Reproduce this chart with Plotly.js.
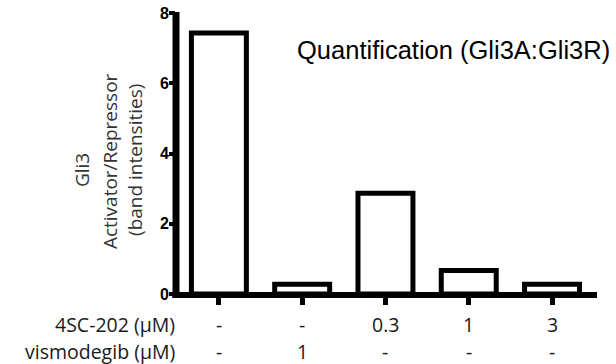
<!DOCTYPE html>
<html><head><meta charset="utf-8">
<script src="https://cdn.plot.ly/plotly-3.0.1.min.js"></script>
<style>html,body{margin:0;padding:0;background:#fff}</style>
</head><body>
<div id="chart" style="width:616px;height:364px"></div>
<script>
const categories = [0, 1, 2, 3, 4];
const ratio = [7.43, 0.28, 2.87, 0.67, 0.28];
const row1Label = "4SC-202 (μM)";
const row1Values = ["-", "-", "0.3", "1", "3"];
const row2Label = "vismodegib (μM)";
const row2Values = ["-", "1", "-", "-", "-"];
const yTicks = [0, 2, 4, 6, 8];
const yTitleLines = ["Gli3", "Activator/Repressor", "(band intensities)"];
const chartTitle = "Quantification (Gli3A:Gli3R)";

const lblFont = {family: "Open Sans, Noto Sans, sans-serif", size: 19.5, color: "#1a1a1a"};
const ytFont = {family: "Open Sans, Noto Sans, sans-serif", size: 19, color: "#333"};
const annotations = [];
[[row1Label, row1Values, -30], [row2Label, row2Values, -57]].forEach(([lab, vals, ys]) => {
  annotations.push({xref: "paper", yref: "paper", x: 0, y: 0, xanchor: "right", yanchor: "middle",
    xshift: 1, yshift: ys, text: lab, showarrow: false, font: lblFont});
  categories.forEach((c, i) => {
    annotations.push({xref: "x", yref: "paper", x: c, y: 0, yanchor: "middle", yshift: ys,
      text: vals[i], showarrow: false, font: lblFont});
  });
});
[[-94, 0.441], [-66, 0.473], [-41, 0.477]].forEach(([xs, yy], i) => {
  annotations.push({xref: "paper", yref: "paper", x: 0, y: yy, xanchor: "center", yanchor: "middle",
    xshift: xs, textangle: -90, text: yTitleLines[i], showarrow: false, font: ytFont});
});
annotations.push({xref: "paper", yref: "paper", x: 0.660, y: 0.868, xanchor: "center", yanchor: "middle",
  text: chartTitle, showarrow: false,
  font: {family: "Liberation Sans, Arial, sans-serif", size: 25.5, color: "#000"}});

// axis lines drawn as solid bars (paper coordinates, plot area 421x281 px)
const shapes = [
  {type: "rect", xref: "paper", yref: "paper", x0: -0.0083, x1: 0.0083, y0: -0.0142, y1: 1.0036,
    fillcolor: "#000", line: {width: 0}},
  {type: "rect", xref: "paper", yref: "paper", x0: -0.0083, x1: 1, y0: -0.0142, y1: 0.0071,
    fillcolor: "#000", line: {width: 0}}
];

Plotly.newPlot("chart", [{
  type: "bar", x: categories, y: ratio, width: 0.66,
  marker: {color: "#fff", line: {color: "#000", width: 5}},
  hoverinfo: "none"
}], {
  width: 616, height: 364,
  margin: {l: 176, r: 19, t: 13, b: 70},
  paper_bgcolor: "#fff", plot_bgcolor: "#fff",
  showlegend: false,
  xaxis: {range: [-0.515, 4.54], showgrid: false, zeroline: false, showline: false,
    ticks: "outside", ticklen: 10, tickwidth: 5,
    tickcolor: "#000", tickvals: categories, showticklabels: false, fixedrange: true},
  yaxis: {range: [0, 8], showgrid: false, zeroline: false, showline: false,
    ticks: "outside", ticklen: 6, tickwidth: 4,
    tickcolor: "#000", tickvals: yTicks, ticktext: yTicks.map(v => "<b>" + v + "</b>"),
    ticklabelstandoff: -3,
    tickfont: {family: "Liberation Sans, Arial, sans-serif", size: 16, color: "#000"},
    fixedrange: true},
  shapes: shapes,
  annotations: annotations
}, {displayModeBar: false, staticPlot: true});
</script>
</body></html>
